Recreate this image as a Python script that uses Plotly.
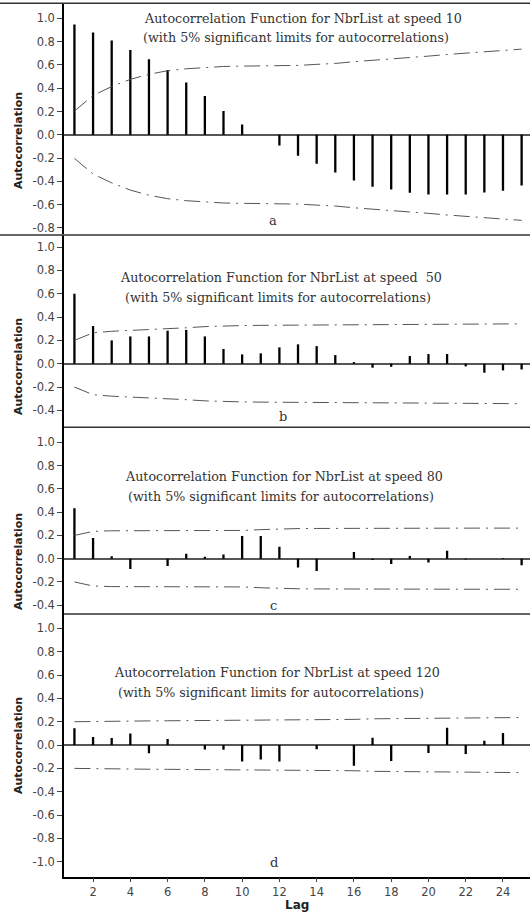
import plotly.graph_objects as go

# ---------------- data ----------------
lags = list(range(1, 26))

acf_speed10 = [0.948, 0.88, 0.811, 0.728, 0.65, 0.556, 0.45, 0.332, 0.203, 0.089,
               0.0, -0.092, -0.18, -0.249, -0.324, -0.393, -0.447, -0.47, -0.499, -0.513,
               -0.513, -0.513, -0.496, -0.481, -0.436]
lim_speed10 = [0.203, 0.338, 0.414, 0.476, 0.52, 0.55, 0.567, 0.58, 0.587, 0.59,
               0.59, 0.593, 0.596, 0.605, 0.613, 0.628, 0.639, 0.653, 0.665, 0.676,
               0.69, 0.702, 0.713, 0.725, 0.736]

acf_speed50 = [0.6, 0.323, 0.2, 0.234, 0.234, 0.283, 0.29, 0.234, 0.126, 0.08,
               0.089, 0.14, 0.166, 0.151, 0.074, 0.014, -0.034, -0.026, 0.066, 0.083,
               0.083, -0.023, -0.077, -0.057, -0.049]
lim_speed50 = [0.2, 0.265, 0.278, 0.284, 0.29, 0.297, 0.308, 0.318, 0.325, 0.327,
               0.329, 0.33, 0.333, 0.336, 0.338, 0.338, 0.338, 0.339, 0.339, 0.34,
               0.34, 0.341, 0.341, 0.342, 0.342]

acf_speed80 = [0.433, 0.178, 0.02, -0.089, 0.0, -0.063, 0.043, 0.017, 0.037, 0.195,
               0.195, 0.103, -0.075, -0.106, 0.0, 0.057, -0.011, -0.046, 0.023, -0.032,
               0.069, -0.008, 0.0, 0.006, -0.057]
lim_speed80 = [0.2, 0.235, 0.24, 0.24, 0.241, 0.241, 0.242, 0.242, 0.242, 0.243,
               0.25, 0.257, 0.259, 0.26, 0.261, 0.261, 0.262, 0.262, 0.262, 0.262,
               0.262, 0.263, 0.263, 0.263, 0.263]

acf_speed120 = [0.143, 0.069, 0.06, 0.1, -0.071, 0.051, 0.0, -0.037, -0.04, -0.14,
                -0.123, -0.14, 0.0, -0.036, 0.0, -0.177, 0.063, -0.137, 0.0, -0.069,
                0.149, -0.077, 0.037, 0.103, 0.0]
lim_speed120 = [0.2, 0.203, 0.205, 0.206, 0.207, 0.208, 0.209, 0.209, 0.209, 0.21,
                0.213, 0.216, 0.219, 0.22, 0.22, 0.22, 0.225, 0.226, 0.229, 0.229,
                0.23, 0.233, 0.234, 0.235, 0.236]

yticks_a = [-0.8, -0.6, -0.4, -0.2, 0.0, 0.2, 0.4, 0.6, 0.8, 1.0]
yticks_b = [-0.4, -0.2, 0.0, 0.2, 0.4, 0.6, 0.8, 1.0]
yticks_c = [-0.4, -0.2, 0.0, 0.2, 0.4, 0.6, 0.8, 1.0]
yticks_d = [-1.0, -0.8, -0.6, -0.4, -0.2, 0.0, 0.2, 0.4, 0.6, 0.8, 1.0]
xticks = [2, 4, 6, 8, 10, 12, 14, 16, 18, 20, 22, 24]

titles = [
    ("Autocorrelation Function for NbrList at speed 10",
     "(with 5% significant limits for autocorrelations)"),
    ("Autocorrelation Function for NbrList at speed  50",
     "(with 5% significant limits for autocorrelations)"),
    ("Autocorrelation Function for NbrList at speed 80",
     "(with 5% significant limits for autocorrelations)"),
    ("Autocorrelation Function for NbrList at speed 120",
     "(with 5% significant limits for autocorrelations)"),
]
letters = ["a", "b", "c", "d"]

# ---------------- layout geometry ----------------
W, H = 530, 916
def px(x):
    return x / W
def py(y):
    return 1 - y / H

panels = [
    dict(acf=acf_speed10, lim=lim_speed10, top=3.3, bot=234.3, rng=[-0.856, 1.13], ticks=yticks_a,
         t1=(303, 18.3), t2=(295.5, 37.7), let=(273, 221), ytitle=141),
    dict(acf=acf_speed50, lim=lim_speed50, top=235.0, bot=427.0, rng=[-0.542, 1.103], ticks=yticks_b,
         t1=(281.3, 277), t2=(277.5, 297), let=(283, 417), ytitle=367),
    dict(acf=acf_speed80, lim=lim_speed80, top=427.3, bot=614.5, rng=[-0.48, 1.13], ticks=yticks_c,
         t1=(284.2, 476), t2=(281, 496), let=(273, 605), ytitle=562),
    dict(acf=acf_speed120, lim=lim_speed120, top=614.0, bot=876.7, rng=[-1.128, 1.123], ticks=yticks_d,
         t1=(277.2, 672), t2=(271.3, 692), let=(274, 862), ytitle=746),
]

AX_LEFT = 64
XRANGE = [0.44, 25.45]

fig = go.Figure()
annotations = []
shapes = []
layout = dict(
    width=W, height=H, autosize=False,
    margin=dict(l=0, r=0, t=0, b=0),
    paper_bgcolor="white", plot_bgcolor="white",
    showlegend=False,
)

title_font = dict(family="DejaVu Serif", size=12.7, color="#333333")
tick_font = dict(family="DejaVu Sans", size=11.5, color="#444444")

for i, p in enumerate(panels):
    n = i + 1
    xa = "x" if n == 1 else f"x{n}"
    ya = "y" if n == 1 else f"y{n}"
    xkey = "xaxis" if n == 1 else f"xaxis{n}"
    ykey = "yaxis" if n == 1 else f"yaxis{n}"

    # spikes
    sx, sy = [], []
    for k, v in zip(lags, p["acf"]):
        sx += [k, k, None]
        sy += [0, v, None]
    fig.add_trace(go.Scatter(x=sx, y=sy, mode="lines", xaxis=xa, yaxis=ya,
                             line=dict(color="black", width=2.3), hoverinfo="skip"))
    # significance limits
    for sign in (1, -1):
        fig.add_trace(go.Scatter(x=lags, y=[sign * v for v in p["lim"]], mode="lines",
                                 xaxis=xa, yaxis=ya,
                                 line=dict(color="#555555", width=1, dash="16px,6px,2px,6px")))

    last = (n == 4)
    layout[xkey] = dict(
        domain=[px(AX_LEFT), 1], range=XRANGE, anchor=ya,
        showgrid=False, zeroline=False,
        showline=last, linecolor="black", linewidth=1.5,
        tickvals=xticks if last else [], ticktext=[str(t) for t in xticks] if last else [],
        ticks="outside" if last else "", ticklen=4, tickcolor="#444444",
        showticklabels=last, tickfont=tick_font,
    )
    layout[ykey] = dict(
        domain=[py(p["bot"]), py(p["top"])], range=p["rng"], anchor=xa,
        showgrid=False,
        zeroline=True, zerolinecolor="#555555", zerolinewidth=1.5,
        showline=True, linecolor="black", linewidth=1.5,
        tickvals=p["ticks"], ticktext=[f"{t:.1f}" for t in p["ticks"]],
        ticks="outside", ticklen=5, tickcolor="#444444", tickfont=tick_font,
    )

    # panel top border
    shapes.append(dict(type="line", xref="paper", yref="paper",
                       x0=0 if n <= 2 else px(AX_LEFT), x1=1, y0=py(p["top"]), y1=py(p["top"]),
                       line=dict(color="#333333", width=1.5)))

    # titles
    annotations.append(dict(text=titles[i][0], x=px(p["t1"][0]), y=py(p["t1"][1]),
                            xref="paper", yref="paper", xanchor="center", yanchor="middle",
                            showarrow=False, font=title_font))
    annotations.append(dict(text=titles[i][1], x=px(p["t2"][0]), y=py(p["t2"][1]),
                            xref="paper", yref="paper", xanchor="center", yanchor="middle",
                            showarrow=False, font=title_font))
    annotations.append(dict(text=letters[i], x=px(p["let"][0]), y=py(p["let"][1]),
                            xref="paper", yref="paper", xanchor="center", yanchor="middle",
                            showarrow=False, font=dict(family="DejaVu Serif", size=13, color="#333333")))
    annotations.append(dict(text="<b>Autocorrelation</b>", x=px(18), y=py(p["ytitle"]),
                            xref="paper", yref="paper", xanchor="center", yanchor="middle",
                            textangle=-90, showarrow=False,
                            font=dict(family="DejaVu Sans", size=11, color="#222222")))

annotations.append(dict(text="<b>Lag</b>", x=px(297), y=py(905), xref="paper", yref="paper",
                        xanchor="center", yanchor="middle", showarrow=False,
                        font=dict(family="DejaVu Sans", size=12, color="#222222")))

layout["annotations"] = annotations
layout["shapes"] = shapes
fig.update_layout(**layout)

fig.write_html("out.html", config={"displayModeBar": False})

# remove the browser's default page margin so the figure starts at the window's corner
with open("out.html", "r", encoding="utf-8") as f:
    html = f.read()
html = html.replace("<head>", "<head><style>html,body{margin:0;padding:0;overflow:hidden;}</style>", 1)
with open("out.html", "w", encoding="utf-8") as f:
    f.write(html)
